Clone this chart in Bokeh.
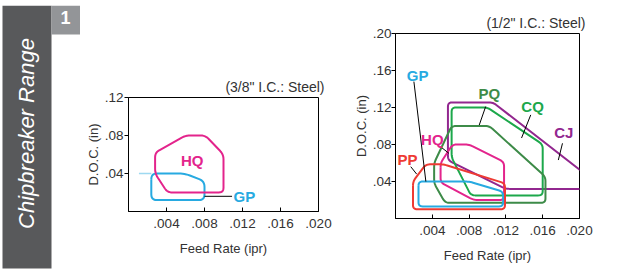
import numpy as np
from bokeh.plotting import figure
from bokeh.layouts import row, column
from bokeh.models import Range1d, FixedTicker
from bokeh.core.properties import value
from bokeh.embed import file_html
from bokeh.resources import INLINE

FONT = "Liberation Sans"

# ---------------- tick values and labels ----------------
x_ticks = [0.004, 0.008, 0.012, 0.016, 0.020]
x_tick_labels = [".004", ".008", ".012", ".016", ".020"]
left_y_ticks = [0.04, 0.08, 0.12]
left_y_tick_labels = [".04", ".08", ".12"]
right_y_ticks = [0.04, 0.08, 0.12, 0.16, 0.20]
right_y_tick_labels = [".04", ".08", ".12", ".16", ".20"]

# ---------------- left chart (3/8" I.C.: Steel) ----------------
l_hq_x = [0.0028, 0.0060, 0.0081, 0.0100, 0.0100, 0.0041, 0.0028]
l_hq_y = [0.062, 0.080, 0.080, 0.060, 0.020, 0.020, 0.040]
l_gp_x = [0.0024, 0.0059, 0.0080, 0.0080, 0.0024]
l_gp_y = [0.040, 0.040, 0.032, 0.012, 0.012]
l_gp_stub_x = [0.0011, 0.0024]
l_gp_stub_y = [0.040, 0.040]

l_names = ["HQ", "GP"]
l_label_x = [0.0067, 0.0122]
l_label_y = [0.054, 0.016]
l_lead_x0 = [0.0080]
l_lead_y0 = [0.016]
l_lead_x1 = [0.0109]
l_lead_y1 = [0.016]

# ---------------- right chart (1/2" I.C.: Steel) ----------------
r_cj_x = [0.0057, 0.0057, 0.0106, 0.0225, 0.0225, 0.0120]
r_cj_y = [0.063, 0.1255, 0.1255, 0.0334, 0.032, 0.032]
r_cq_x = [0.0061, 0.0061, 0.0100, 0.0160, 0.0160, 0.0082]
r_cq_y = [0.066, 0.120, 0.120, 0.080, 0.025, 0.025]
r_pq_x = [0.0042, 0.0061, 0.0102, 0.0163, 0.0163, 0.0054, 0.0042]
r_pq_y = [0.060, 0.100, 0.100, 0.045, 0.017, 0.017, 0.038]
r_hq_x = [0.0049, 0.0062, 0.0080, 0.0118, 0.0118, 0.0085, 0.0049]
r_hq_y = [0.060, 0.080, 0.080, 0.061, 0.020, 0.020, 0.039]
r_gp_x = [0.0025, 0.0080, 0.0117, 0.0117, 0.0025]
r_gp_y = [0.040, 0.040, 0.029, 0.013, 0.013]
r_pp_x = [0.0019, 0.0033, 0.0052, 0.0119, 0.0119, 0.0019]
r_pp_y = [0.040, 0.0586, 0.0586, 0.038, 0.010, 0.010]

r_names = ["GP", "PQ", "CQ", "CJ", "HQ", "PP"]
r_label_x = [0.0024, 0.0102, 0.0149, 0.0183, 0.0040, 0.0013]
r_label_y = [0.155, 0.135, 0.1216, 0.093, 0.085, 0.0643]
r_lead_x0 = [0.0020, 0.0098, 0.0147, 0.01815, 0.0049, 0.00166]
r_lead_y0 = [0.148, 0.121, 0.112, 0.0813, 0.0776, 0.056]
r_lead_x1 = [0.0033, 0.0091, 0.0137, 0.0177, 0.0058, 0.0023]
r_lead_y1 = [0.040, 0.101, 0.087, 0.0632, 0.0705, 0.048]

COLORS = {
    "HQ": "#E3248C",
    "GP": "#27AAE1",
    "PP": "#EE3B33",
    "CQ": "#1CA84B",
    "PQ": "#3D8B48",
    "CJ": "#92278F",
}
STRIP = "#58595B"
BOX = "#939598"
RULE = "#9D9FA2"


def rounded(xs, ys, r, k=10.0, n=7):
    """Closed path with rounded corners (x scaled by k for isotropy)."""
    P = np.column_stack([np.asarray(xs, float) * k, np.asarray(ys, float)])
    m = len(P)
    out = []
    for i in range(m):
        p0, p1, p2 = P[i - 1], P[i], P[(i + 1) % m]
        d1, d2 = p0 - p1, p2 - p1
        l1, l2 = np.hypot(*d1), np.hypot(*d2)
        rr = min(r, l1 / 2, l2 / 2)
        a = p1 + d1 / l1 * rr
        b = p1 + d2 / l2 * rr
        for t in np.linspace(0, 1, n):
            out.append((1 - t) ** 2 * a + 2 * (1 - t) * t * p1 + t ** 2 * b)
    out.append(out[0])
    arr = np.array(out)
    return list(arr[:, 0] / k), list(arr[:, 1])


def chart(width, height, bl, br, bt, bb, ymax, yticks, ylabels, title, ystandoff):
    p = figure(width=width, height=height, output_backend="svg", toolbar_location=None,
               x_range=Range1d(0, 0.020), y_range=Range1d(0, ymax),
               min_border_left=bl, min_border_right=br, min_border_top=bt, min_border_bottom=bb,
               title=title, frame_align=False)
    p.grid.visible = False
    p.outline_line_color = "black"
    p.outline_line_alpha = 1.0
    p.outline_line_width = 1
    p.background_fill_color = "white"
    p.border_fill_color = "white"
    p.title.align = "right"
    p.title.text_font = FONT
    p.title.text_font_size = "14px"
    p.title.text_font_style = "normal"
    p.title.text_color = "#333333"
    p.title.standoff = 6
    p.title.offset = -6
    p.xaxis.ticker = FixedTicker(ticks=x_ticks)
    p.xaxis.major_label_overrides = {t: s for t, s in zip(x_ticks, x_tick_labels)}
    p.yaxis.ticker = FixedTicker(ticks=yticks)
    p.yaxis.major_label_overrides = {t: s for t, s in zip(yticks, ylabels)}
    for ax in (p.xaxis[0], p.yaxis[0]):
        ax.axis_line_color = "black"
        ax.major_tick_line_color = "black"
        ax.minor_tick_line_color = None
        ax.major_label_text_font = FONT
        ax.major_label_text_font_size = "13.5px"
        ax.major_label_text_color = "#333333"
        ax.axis_label_text_font = FONT
        ax.axis_label_text_font_size = "13px"
        ax.axis_label_text_font_style = "normal"
        ax.axis_label_text_color = "#333333"
    p.xaxis.major_tick_in = 4
    p.xaxis.major_tick_out = 0
    p.yaxis.major_tick_in = 0
    p.yaxis.major_tick_out = 4
    p.xaxis.major_label_standoff = 7
    p.yaxis.major_label_standoff = ystandoff
    p.xaxis.axis_label = "Feed Rate (ipr)"
    p.yaxis.axis_label = "D.O.C. (in)"
    p.xaxis.axis_label_standoff = 10
    p.yaxis.axis_label_standoff = 1
    return p


def shape(p, xs, ys, color, r=0.0045):
    rx, ry = rounded(xs, ys, r)
    p.line(rx, ry, line_color=color, line_width=2)


def labels(p, names, lx, ly):
    p.text(x=lx, y=ly, text=names, text_color=[COLORS[n] for n in names],
           text_font=value(FONT), text_font_style="bold", text_font_size="15px",
           text_align="center", text_baseline="middle")


def deco(width, height):
    f = figure(width=width, height=height, output_backend="svg", toolbar_location=None,
               x_range=Range1d(0, width), y_range=Range1d(height, 0),
               min_border=0, outline_line_color=None, frame_align=False)
    f.axis.visible = False
    f.grid.visible = False
    return f


# ---------------- top strip (pixel units) ----------------
top = deco(613, 5)
top.quad(left=[2], right=[51], top=[0], bottom=[5], fill_color=STRIP, line_color=None)
top.quad(left=[51], right=[80], top=[0], bottom=[5], fill_color=BOX, line_color=None)
top.quad(left=[80], right=[613], top=[0], bottom=[1], fill_color=RULE, line_color=None)

H = 265
strip = deco(80, H)
strip.quad(left=[2], right=[51], top=[0], bottom=[263], fill_color=STRIP, line_color=None)
strip.quad(left=[51], right=[80], top=[0], bottom=[29], fill_color=BOX, line_color=None)
strip.text(x=[65], y=[12], text=["1"], text_color="white", text_font=value(FONT),
           text_font_style="bold", text_font_size="18px", text_align="center", text_baseline="middle")
strip.text(x=[26], y=[128], text=["Chipbreaker Range"], angle=np.pi / 2, text_color="white",
           text_font=value(FONT), text_font_style="italic", text_font_size="22px",
           text_align="center", text_baseline="middle")

# ---------------- left chart ----------------
pl = chart(262, H, 48, 24, 92, 59, 0.12, left_y_ticks, left_y_tick_labels, "(3/8\" I.C.: Steel)", 1)
pl.line(l_gp_stub_x, l_gp_stub_y, line_color=COLORS["GP"], line_width=1.5, line_alpha=0.45)
shape(pl, l_gp_x, l_gp_y, COLORS["GP"], r=0.006)
shape(pl, l_hq_x, l_hq_y, COLORS["HQ"], r=0.005)
pl.segment(x0=l_lead_x0, y0=l_lead_y0, x1=l_lead_x1, y1=l_lead_y1, line_color="black", line_width=1)
labels(pl, l_names, l_label_x, l_label_y)

# ---------------- right chart ----------------
pr = chart(271, H, 53, 34, 28, 52, 0.20, right_y_ticks, right_y_tick_labels, "(1/2\" I.C.: Steel)", 0)
shape(pr, r_cj_x, r_cj_y, COLORS["CJ"])
shape(pr, r_cq_x, r_cq_y, COLORS["CQ"])
shape(pr, r_pq_x, r_pq_y, COLORS["PQ"])
shape(pr, r_hq_x, r_hq_y, COLORS["HQ"])
shape(pr, r_gp_x, r_gp_y, COLORS["GP"])
shape(pr, r_pp_x, r_pp_y, COLORS["PP"])
pr.segment(x0=r_lead_x0, y0=r_lead_y0, x1=r_lead_x1, y1=r_lead_y1, line_color="black", line_width=1)
labels(pr, r_names, r_label_x, r_label_y)

# ---------------- bottom rule ----------------
rule = deco(613, 2)
rule.quad(left=[2], right=[613], top=[0], bottom=[1.2], fill_color=RULE, line_color=None)

layout = column(top, row(strip, pl, pr), rule)
open("out.html", "w").write(file_html(layout, INLINE))
